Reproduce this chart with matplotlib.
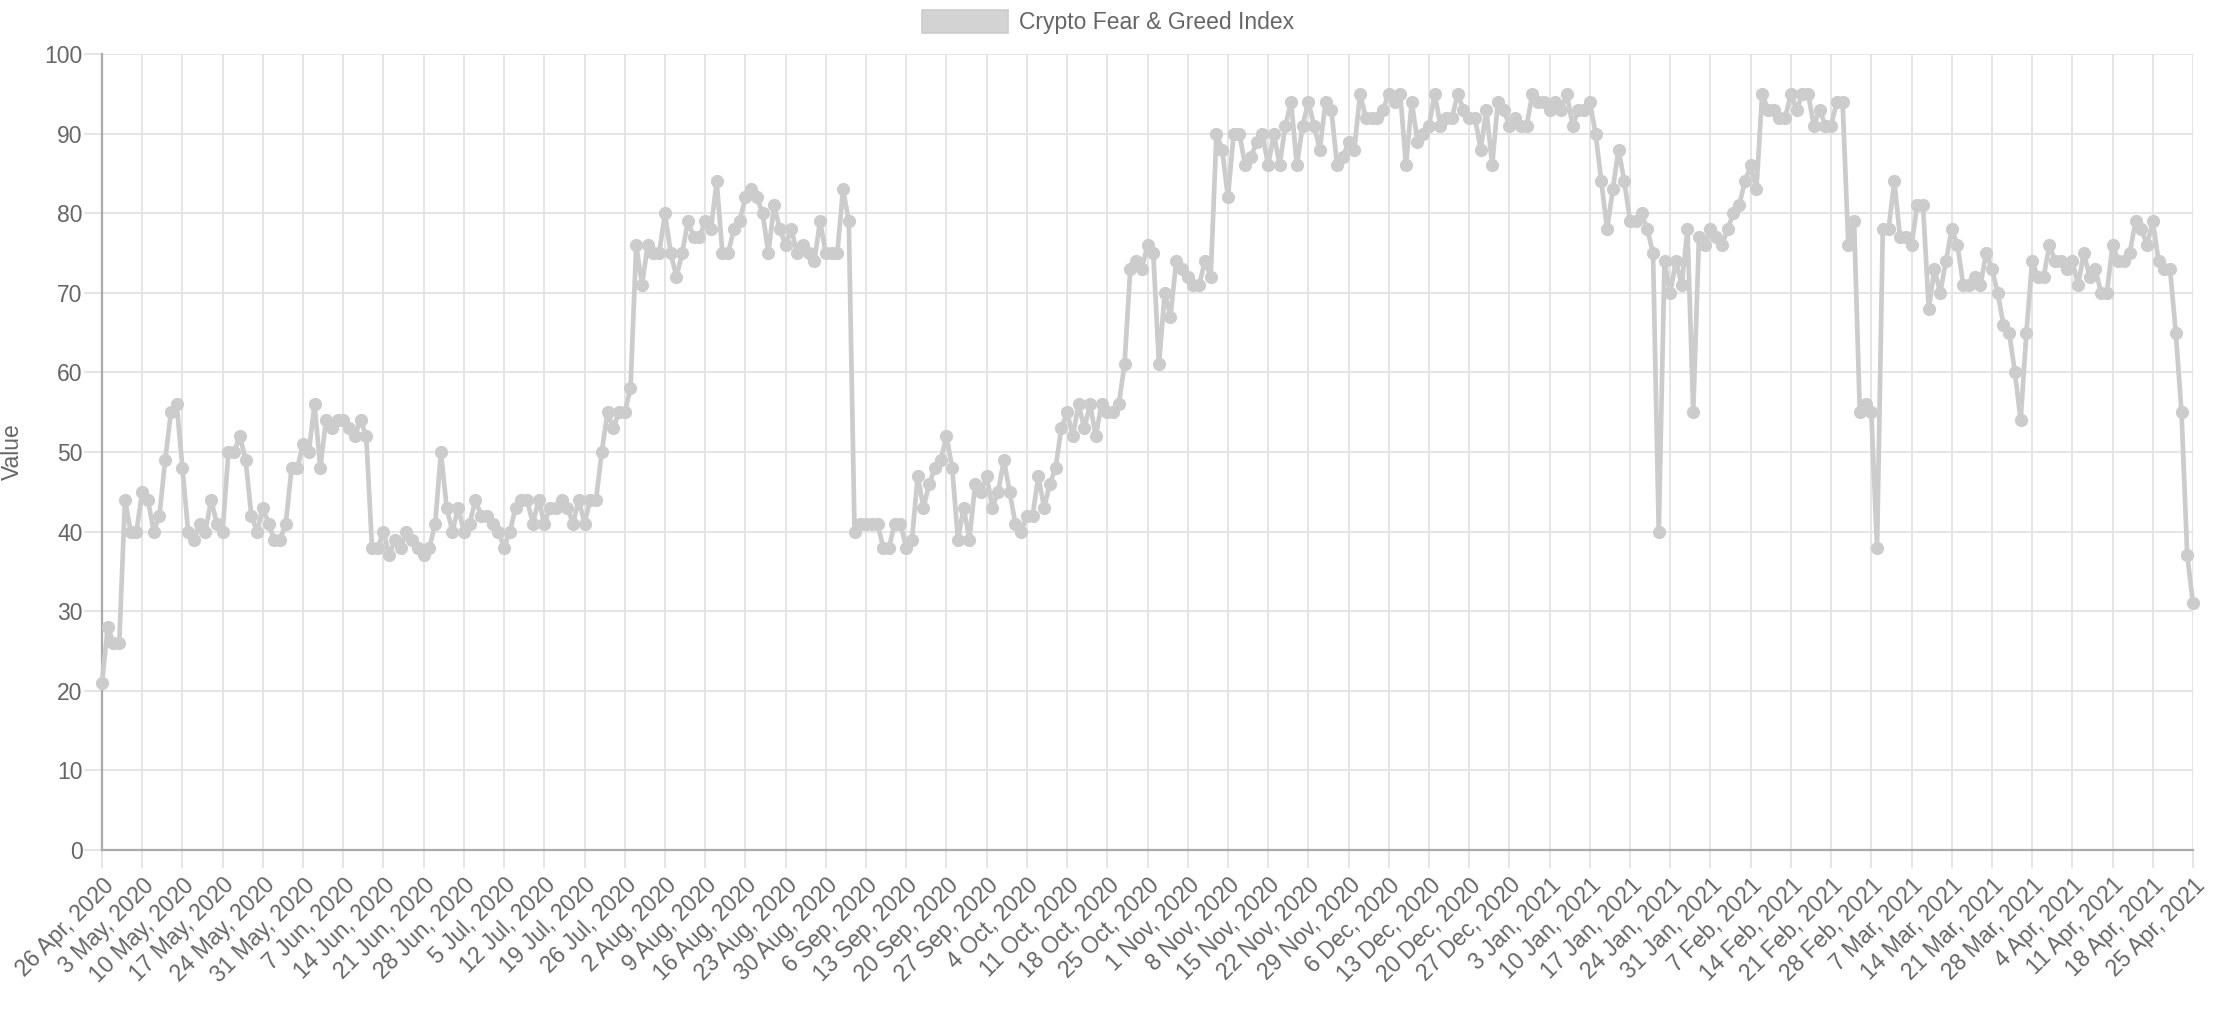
import pandas as pd
import matplotlib
matplotlib.use("Agg")
import matplotlib.pyplot as plt
from matplotlib.patches import Patch

# daily index values, 26 Apr 2020 .. 25 Apr 2021
fear_greed = [
    21, 28, 26, 26, 44, 40, 40, 45, 44, 40, 42, 49, 55, 56, 48, 40, 39, 41, 40, 44,
    41, 40, 50, 50, 52, 49, 42, 40, 43, 41, 39, 39, 41, 48, 48, 51, 50, 56, 48, 54,
    53, 54, 54, 53, 52, 54, 52, 38, 38, 40, 37, 39, 38, 40, 39, 38, 37, 38, 41, 50,
    43, 40, 43, 40, 41, 44, 42, 42, 41, 40, 38, 40, 43, 44, 44, 41, 44, 41, 43, 43,
    44, 43, 41, 44, 41, 44, 44, 50, 55, 53, 55, 55, 58, 76, 71, 76, 75, 75, 80, 75,
    72, 75, 79, 77, 77, 79, 78, 84, 75, 75, 78, 79, 82, 83, 82, 80, 75, 81, 78, 76,
    78, 75, 76, 75, 74, 79, 75, 75, 75, 83, 79, 40, 41, 41, 41, 41, 38, 38, 41, 41,
    38, 39, 47, 43, 46, 48, 49, 52, 48, 39, 43, 39, 46, 45, 47, 43, 45, 49, 45, 41,
    40, 42, 42, 47, 43, 46, 48, 53, 55, 52, 56, 53, 56, 52, 56, 55, 55, 56, 61, 73,
    74, 73, 76, 75, 61, 70, 67, 74, 73, 72, 71, 71, 74, 72, 90, 88, 82, 90, 90, 86,
    87, 89, 90, 86, 90, 86, 91, 94, 86, 91, 94, 91, 88, 94, 93, 86, 87, 89, 88, 95,
    92, 92, 92, 93, 95, 94, 95, 86, 94, 89, 90, 91, 95, 91, 92, 92, 95, 93, 92, 92,
    88, 93, 86, 94, 93, 91, 92, 91, 91, 95, 94, 94, 93, 94, 93, 95, 91, 93, 93, 94,
    90, 84, 78, 83, 88, 84, 79, 79, 80, 78, 75, 40, 74, 70, 74, 71, 78, 55, 77, 76,
    78, 77, 76, 78, 80, 81, 84, 86, 83, 95, 93, 93, 92, 92, 95, 93, 95, 95, 91, 93,
    91, 91, 94, 94, 76, 79, 55, 56, 55, 38, 78, 78, 84, 77, 77, 76, 81, 81, 68, 73,
    70, 74, 78, 76, 71, 71, 72, 71, 75, 73, 70, 66, 65, 60, 54, 65, 74, 72, 72, 76,
    74, 74, 73, 74, 71, 75, 72, 73, 70, 70, 76, 74, 74, 75, 79, 78, 76, 79, 74, 73,
    73, 65, 55, 37, 31,
]
dates = pd.date_range("2020-04-26", periods=len(fear_greed), freq="D")
series_name = "Crypto Fear & Greed Index"
y_ticks = list(range(0, 101, 10))

plt.rcParams['font.family'] = ['Liberation Sans', 'DejaVu Sans']

line_color = '#cccccc'
grid_color = '#e3e3e3'
axis_color = '#aaaaaa'
text_color = '#666666'
fs = 16.5

W, H = 2216, 1024
left, right, top, bottom = 102, 2193, 54, 850
fig = plt.figure(figsize=(W / 100, H / 100), dpi=100)
ax = fig.add_axes([left / W, 1 - bottom / H, (right - left) / W, (bottom - top) / H])

x = list(range(len(fear_greed)))
ax.plot(x, fear_greed, color=line_color, lw=3.4, marker='o', ms=8.5,
        mfc=line_color, mec=line_color, solid_joinstyle='round', zorder=3,
        clip_on=False)

ax.set_xlim(0, len(fear_greed) - 1)
ax.set_ylim(0, 100)

week_idx = x[::7]
week_labels = [f"{d.day} {d.strftime('%b')}, {d.year}" for d in dates[::7]]
ax.set_xticks(week_idx)
ax.set_xticklabels(week_labels, rotation=45, ha='right', rotation_mode='anchor')
ax.set_yticks(y_ticks)

ax.grid(True, color=grid_color, lw=1.3)
ax.set_axisbelow(True)
ax.tick_params(axis='both', length=13, width=1.3, color=grid_color,
               labelsize=fs, labelcolor=text_color)
ax.tick_params(axis='x', pad=4)
ax.tick_params(axis='y', pad=1)

for side in ['top', 'right']:
    ax.spines[side].set_visible(False)
for side in ['left', 'bottom']:
    ax.spines[side].set_color(axis_color)
    ax.spines[side].set_linewidth(1.6)

fig.text(0.0055, 1 - (top + bottom) / 2 / H, 'Value', rotation=90,
         ha='center', va='center', fontsize=fs, color=text_color)

handle = Patch(facecolor='#d3d3d3', edgecolor='#cccccc', lw=1.2)
fig.legend([handle], [series_name], loc='center',
           bbox_to_anchor=(0.5, 1 - 22 / H), frameon=False, fontsize=fs,
           handlelength=3.75, handleheight=1.15, handletextpad=0.45,
           borderpad=0, labelcolor=text_color)

fig.savefig('out.png', dpi=100, facecolor='white')
